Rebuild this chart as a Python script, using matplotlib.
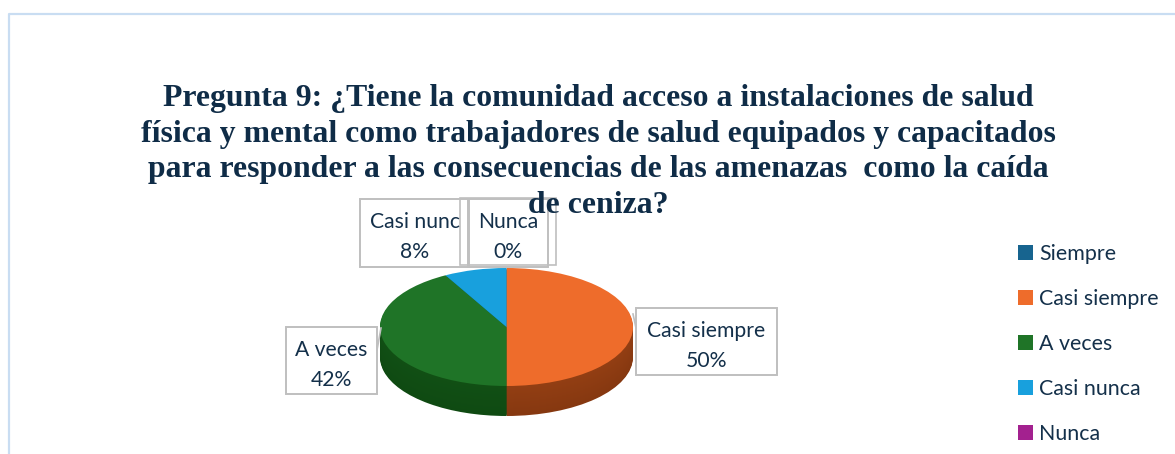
import matplotlib
matplotlib.use("Agg")
import numpy as np
from matplotlib import pyplot as plt
from matplotlib.colors import to_rgb
from matplotlib.patches import Patch, Rectangle

# Data
categories = ["Siempre", "Casi siempre", "A veces", "Casi nunca", "Nunca"]
values = [0, 50, 42, 8, 0]
colors = ["#17648F", "#EE6C2B", "#1F7427", "#18A0DD", "#A3218F"]
side_colors = ["#0E3D58", "#863810", "#0F4A12", "#0E6088", "#641458"]
title = ("Pregunta 9: ¿Tiene la comunidad acceso a instalaciones de salud\n"
         "física y mental como trabajadores de salud equipados y capacitados\n"
         "para responder a las consecuencias de las amenazas  como la caída\n"
         "de ceniza?")

W, H = 1175, 454
TXT = "#14304A"
GREY = "#BFBFBF"
plt.rcParams["font.family"] = ["Lato", "DejaVu Sans"]

fig = plt.figure(figsize=(W / 100, H / 100), dpi=100)

# overlay in pixel coordinates for frame, title and label boxes
bg = fig.add_axes([0, 0, 1, 1])
bg.set_xlim(0, W)
bg.set_ylim(H, 0)
bg.axis("off")
bg.plot([8.5, 8.5, W], [H, 13.5, 13.5], color="#C9DDF2", lw=1.6)

# pie axes: ellipse radius 127x59 px, 30 px of depth
ax = fig.add_axes([380 / W, 1 - 416 / H, 253 / W, 148 / H])
depth = 30 / 59
dark = [np.array(to_rgb(c)) for c in side_colors]
top = [np.array(to_rgb(c)) for c in colors]
for d in np.linspace(depth, 0.02, 30):
    # side of the disc, lighter towards the top edge
    f = 0.12 * (1 - d / depth)
    cols = [c * (1 - f) + t * f for c, t in zip(dark, top)]
    ax.pie(values, colors=cols, startangle=90, counterclock=False, center=(0, -d), radius=1)
ax.pie(values, colors=colors, startangle=90, counterclock=False, radius=1)
ax.set_aspect("auto")
ax.set_xlim(-1, 1)
ax.set_ylim(-1 - depth, 1)

fig.text(598 / W, 1 - 152 / H, title, ha="center", va="center", family="Liberation Serif",
         weight="bold", fontsize=22.9, color="#0F2C47", linespacing=1.31, zorder=5)

# data label boxes (x0, y0, x1, y1)
bg2 = fig.add_axes([0, 0, 1, 1], facecolor="none")
bg2.set_xlim(0, W)
bg2.set_ylim(H, 0)
bg2.axis("off")
bg2.add_patch(Rectangle((460, 198), 96, 67, fc="none", ec=GREY, lw=1.2))
labels = [
    ("Casi nunc", values[3], 360, 199, 109, 68),
    ("Nunca", values[4], 468, 199, 80, 68),
    ("Casi siempre", values[1], 636, 308, 141, 67),
    ("A veces", values[2], 286, 327, 91, 67),
]
for name, v, x, y, w, h in labels:
    bg2.add_patch(Rectangle((x, y), w, h, fc="none", ec=GREY, lw=1.4))
    bg2.text(x + w / 2, y + 23, name, ha="center", va="center", fontsize=15.2, color=TXT)
    bg2.text(x + w / 2, y + 53, f"{v}%", ha="center", va="center", fontsize=15.2, color=TXT)
# leader ticks
bg2.plot([636, 633], [328, 314], color=GREY, lw=1.2)
bg2.plot([377, 381], [350, 328], color=GREY, lw=1.2)

handles = [Patch(fc=c, ec="none") for c in colors]
bg2.legend(handles, categories, loc="upper left", bbox_to_anchor=(1011.6 / W, 1 - 238 / H),
           bbox_transform=fig.transFigure, frameon=False, fontsize=15.4, labelcolor=TXT,
           handlelength=0.7, handleheight=0.7, handletextpad=0.28, labelspacing=1.16,
           borderpad=0.3, borderaxespad=0)

fig.savefig("out.png", dpi=100)
